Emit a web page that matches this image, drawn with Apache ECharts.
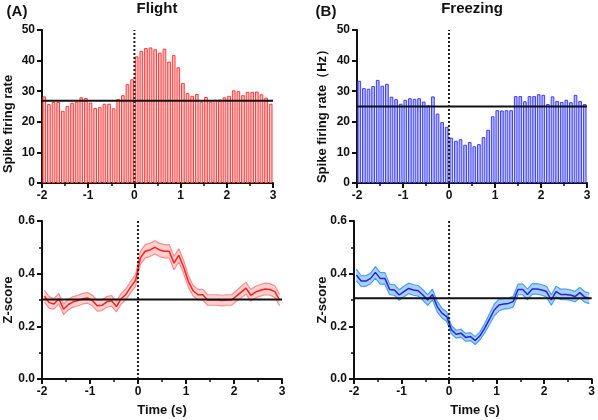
<!DOCTYPE html>
<html>
<head>
<meta charset="utf-8">
<script src="https://cdn.jsdelivr.net/npm/echarts@6/dist/echarts.min.js"></script>
<style>html,body{margin:0;padding:0;background:#fff;}#c{width:598px;height:420px;}</style>
</head>
<body>
<div id="c"></div>
<script>
// ---- data ----
const binTimes = [-1.95,-1.85,-1.75,-1.65,-1.55,-1.45,-1.35,-1.25,-1.15,-1.05,
  -0.95,-0.85,-0.75,-0.65,-0.55,-0.45,-0.35,-0.25,-0.15,-0.05,
  0.05,0.15,0.25,0.35,0.45,0.55,0.65,0.75,0.85,0.95,
  1.05,1.15,1.25,1.35,1.45,1.55,1.65,1.75,1.85,1.95,
  2.05,2.15,2.25,2.35,2.45,2.55,2.65,2.75,2.85,2.95];
const xTicks = [-2,-1,0,1,2,3];
const flightRate = [28.3,25.8,26.5,26.5,23.6,25.2,26.2,26.6,28.0,27.8,
  26.3,24.5,24.8,25.9,25.9,24.4,27.4,28.7,32.3,33.9,
  41.4,43.2,44.1,44.3,43.7,42.6,43.9,39.7,41.8,37.8,
  32.7,29.4,28.5,29.1,26.6,28.1,26.6,27.2,27.3,28.0,
  28.5,30.3,30.0,28.7,29.8,29.8,29.9,29.0,27.9,25.9];
const flightRateMean = 26.9;
const freezeRate = [33.4,31.0,30.8,31.7,33.7,31.8,32.4,28.2,27.4,25.9,
  27.2,27.7,27.5,27.7,26.6,25.4,28.3,22.7,19.9,18.4,
  14.8,13.8,14.3,12.5,13.4,12.0,12.7,15.0,17.4,21.8,
  23.8,23.7,23.8,23.8,28.4,28.4,26.7,28.4,28.4,29.0,
  28.8,25.8,28.3,26.8,26.5,27.2,26.4,28.8,26.8,25.8];
const freezeRateMean = 25.0;
const flightZ = [0.315,0.290,0.285,0.305,0.265,0.283,0.293,0.298,0.305,0.308,
  0.298,0.278,0.280,0.293,0.297,0.275,0.305,0.322,0.350,0.375,
  0.460,0.485,0.490,0.500,0.490,0.485,0.485,0.440,0.470,0.425,
  0.370,0.335,0.320,0.320,0.300,0.300,0.300,0.298,0.300,0.300,
  0.315,0.330,0.345,0.318,0.330,0.337,0.342,0.340,0.332,0.300];
const flightSem = [0.022,0.022,0.020,0.020,0.020,0.020,0.020,0.020,0.020,0.020,
  0.020,0.020,0.020,0.020,0.020,0.020,0.020,0.020,0.022,0.022,
  0.025,0.025,0.025,0.025,0.025,0.025,0.025,0.025,0.025,0.025,
  0.022,0.020,0.020,0.020,0.020,0.020,0.020,0.020,0.020,0.020,
  0.020,0.022,0.022,0.022,0.022,0.022,0.022,0.022,0.022,0.022];
const flightZMean = 0.302;
const freezeZ = [0.395,0.372,0.372,0.382,0.405,0.382,0.382,0.340,0.338,0.319,
  0.332,0.344,0.338,0.335,0.319,0.300,0.321,0.275,0.250,0.237,
  0.187,0.170,0.174,0.158,0.161,0.146,0.164,0.193,0.227,0.262,
  0.281,0.285,0.287,0.294,0.340,0.340,0.321,0.342,0.342,0.338,
  0.332,0.300,0.332,0.321,0.321,0.319,0.313,0.328,0.312,0.306];
const freezeSem = [0.022,0.020,0.020,0.020,0.022,0.022,0.022,0.020,0.020,0.020,
  0.020,0.020,0.020,0.020,0.020,0.020,0.020,0.020,0.018,0.018,
  0.015,0.015,0.015,0.015,0.015,0.015,0.015,0.018,0.020,0.022,
  0.022,0.020,0.020,0.020,0.020,0.020,0.020,0.020,0.020,0.020,
  0.020,0.020,0.020,0.020,0.020,0.020,0.020,0.020,0.020,0.020];
const freezeZMean = 0.307;

// ---- styles ----
const FONT = 'Liberation Sans, Arial, sans-serif';
const labelStyle = {fontFamily: FONT, fontWeight: 'bold', fontSize: 12, color: '#111'};
const axLine = {show: true, onZero: false, lineStyle: {color: '#111', width: 2}};
const axTick = {show: true, inside: false, length: 5, lineStyle: {color: '#111', width: 2}};
const minTick = {show: true, splitNumber: 2, length: 3, lineStyle: {color: '#111', width: 1.5}};

function timeAxis(grid) {
  return {type: 'value', gridIndex: grid, min: xTicks[0], max: xTicks[xTicks.length-1], interval: 1,
    axisLine: axLine, axisTick: axTick, minorTick: minTick,
    splitLine: {show: false}, minorSplitLine: {show: false},
    axisLabel: Object.assign({margin: 7}, labelStyle)};
}
function catAxis(grid) {
  return {type: 'category', gridIndex: grid, data: binTimes.map(String), boundaryGap: true, show: false};
}
function rateAxis(grid) {
  return {type: 'value', gridIndex: grid, min: 0, max: 50, interval: 10,
    axisLine: axLine, axisTick: axTick, splitLine: {show: false},
    axisLabel: Object.assign({margin: 7}, labelStyle)};
}
function zAxis(grid) {
  return {type: 'value', gridIndex: grid, min: 0, max: 0.6, interval: 0.2,
    axisLine: axLine, axisTick: axTick, minorTick: minTick,
    splitLine: {show: false}, minorSplitLine: {show: false},
    axisLabel: Object.assign({margin: 7, formatter: v => v.toFixed(1)}, labelStyle)};
}

function barSeries(xi, yi, vals, fill, edge) {
  return {type: 'bar', xAxisIndex: xi, yAxisIndex: yi, data: vals, barWidth: '80%',
    itemStyle: {color: fill, borderColor: edge, borderWidth: 1}, silent: true, z: 2};
}
function hLine(xi, yi, v) {
  return {type: 'line', xAxisIndex: xi, yAxisIndex: yi, data: [[xTicks[0], v], [xTicks[xTicks.length-1], v]],
    symbol: 'none', lineStyle: {color: '#111', width: 2}, z: 6, silent: true};
}
function vLine(xi, yi, top) {
  return {type: 'line', xAxisIndex: xi, yAxisIndex: yi, data: [[0, 0], [0, top]],
    symbol: 'none', lineStyle: {color: '#222', width: 2, type: [2, 2]}, z: 7, silent: true};
}
function bandSeries(xi, yi, mean, sem, lineCol, edgeCol, fillCol) {
  const rows = binTimes.map((t, i) => [t, mean[i] - sem[i], mean[i] + sem[i]]);
  const upper = rows.map(r => [r[0], r[2]]);
  const lower = rows.map(r => [r[0], r[1]]);
  const m = binTimes.map((t, i) => [t, mean[i]]);
  const base = {type: 'line', xAxisIndex: xi, yAxisIndex: yi, symbol: 'none', silent: true};
  return [
    {type: 'custom', xAxisIndex: xi, yAxisIndex: yi, data: rows, silent: true, z: 2,
      encode: {x: 0, y: [1, 2]},
      renderItem: function (params, api) {
        if (params.dataIndex !== 0) return null;
        const pts = [];
        rows.forEach(r => pts.push(api.coord([r[0], r[2]])));
        for (let i = rows.length - 1; i >= 0; i--) pts.push(api.coord([rows[i][0], rows[i][1]]));
        return {type: 'polygon', shape: {points: pts}, style: {fill: fillCol}};
      }},
    Object.assign({}, base, {data: upper, lineStyle: {color: edgeCol, width: 1.2}, z: 3}),
    Object.assign({}, base, {data: lower, lineStyle: {color: edgeCol, width: 1.2}, z: 3}),
    Object.assign({}, base, {data: m, lineStyle: {color: lineCol, width: 1.5}, z: 4})
  ];
}

function vText(x, y, text) {
  return {type: 'text', x: x, y: y, rotation: Math.PI / 2,
    style: {text: text, font: 'bold 13px ' + FONT, fill: '#111', textAlign: 'center', textVerticalAlign: 'middle'}};
}
function hText(x, y, text, size) {
  return {type: 'text', x: x, y: y,
    style: {text: text, font: 'bold ' + size + 'px ' + FONT, fill: '#111', textAlign: 'center', textVerticalAlign: 'middle'}};
}

const option = {
  animation: false,
  backgroundColor: '#fff',
  grid: [
    {left: 42, top: 30, width: 231, height: 153, containLabel: false},
    {left: 357, top: 30, width: 230, height: 153, containLabel: false},
    {left: 42, top: 221, width: 240, height: 158, containLabel: false},
    {left: 354, top: 221, width: 240, height: 158, containLabel: false}
  ],
  xAxis: [timeAxis(0), catAxis(0), timeAxis(1), catAxis(1), timeAxis(2), timeAxis(3)],
  yAxis: [rateAxis(0), rateAxis(1), zAxis(2), zAxis(3)],
  series: [
    barSeries(1, 0, flightRate, '#ffbcbc', '#ff3c3c'),
    hLine(0, 0, flightRateMean),
    vLine(0, 0, 50),
    barSeries(3, 1, freezeRate, '#b3b9ff', '#3d3dff'),
    hLine(2, 1, freezeRateMean),
    vLine(2, 1, 50),
    ...bandSeries(4, 2, flightZ, flightSem, '#ff1f1f', '#ff8c8c', '#ffd0d0'),
    hLine(4, 2, flightZMean),
    vLine(4, 2, 0.6),
    ...bandSeries(5, 3, freezeZ, freezeSem, '#2323e6', '#4a9ef5', '#a9d0f7'),
    hLine(5, 3, freezeZMean),
    vLine(5, 3, 0.6)
  ],
  graphic: [
    hText(17, 12, '(A)', 15),
    hText(157, 9, 'Flight', 15),
    hText(326, 12, '(B)', 15),
    hText(472, 9, 'Freezing', 15),
    vText(8, 124, 'Spike firing rate'),
    vText(322, 113, 'Spike firing rate（Hz）'),
    vText(8, 300, 'Z-score'),
    vText(322, 300, 'Z-score'),
    hText(162, 410, 'Time (s)', 13),
    hText(475, 410, 'Time (s)', 13)
  ]
};
const chart = echarts.init(document.getElementById('c'), null, {renderer: 'canvas'});
chart.setOption(option);
</script>
</body>
</html>
